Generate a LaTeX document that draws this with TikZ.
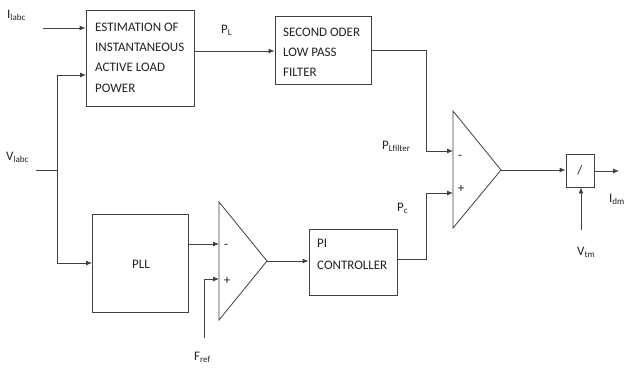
\documentclass[tikz,border=0pt]{standalone}
\usepackage{fontspec}
\setmainfont{Carlito}
\usetikzlibrary{arrows.meta}
\definecolor{linec}{HTML}{404040}
\definecolor{txtc}{HTML}{222222}
\newcommand{\mysub}[1]{\raisebox{-2.2pt}{\fontsize{9}{10}\selectfont #1}}
\begin{document}
\begin{tikzpicture}[x=1pt,y=-1pt,
  ln/.style={draw=linec, line width=0.8pt},
  arr/.style={ln, -{Latex[length=6pt,width=5pt]}},
  blk/.style={draw=linec, line width=0.8pt, rectangle, inner sep=0pt},
  lbl/.style={font=\fontsize{13}{15}\selectfont, text=txtc, inner sep=0pt, anchor=west}]
\useasboundingbox[fill=white] (0,0) rectangle (626,367);
% blocks
\node[blk, minimum width=108pt, minimum height=96pt] (est) at (140,58) {};
\node[blk, minimum width=96pt, minimum height=68pt] (lpf) at (323,50) {};
\node[blk, minimum width=96pt, minimum height=98pt] (pll) at (140,263) {};
\node[blk, minimum width=88pt, minimum height=66pt] (pi) at (353,262) {};
\node[blk, minimum width=28pt, minimum height=33pt] (dv) at (580,170.5) {};
% block texts
\node[lbl] (t1) at (95,27) {ESTIMATION OF};
\node[lbl] (t2) at (95,47) {INSTANTANEOUS};
\node[lbl] (t3) at (95,67) {ACTIVE LOAD};
\node[lbl] (t4) at (95,88) {POWER};
\node[lbl] (f1) at (283,32) {SECOND ODER};
\node[lbl] (f2) at (283,52) {LOW PASS};
\node[lbl] (f3) at (283,72) {FILTER};
\node[lbl, anchor=center] (tp) at (141,264) {PLL};
\node[lbl] (p1) at (317,243) {PI};
\node[lbl] (p2) at (317,265) {CONTROLLER};
\node[lbl, anchor=center] (ts) at (580,170) {/};
% comparators
\coordinate (a1) at (219,202); \coordinate (b1) at (219,320); \coordinate (c1) at (267,261);
\draw[ln] (a1) -- (b1) -- (c1) -- cycle;
\coordinate (a2) at (453,111); \coordinate (b2) at (453,228); \coordinate (c2) at (501,170);
\draw[ln] (a2) -- (b2) -- (c2) -- cycle;
\node[lbl, anchor=center] (m1) at (226,246) {-};
\node[lbl, anchor=center] (s1) at (227,281) {+};
\node[lbl, anchor=center] (m2) at (460,157) {-};
\node[lbl, anchor=center] (s2) at (461,189) {+};
% signal labels
\node[lbl] (li) at (7,15) {I\mysub{labc}};
\node[lbl] (lv) at (6,157) {V\mysub{labc}};
\node[lbl] (lpl) at (221,30) {P\mysub{L}};
\node[lbl] (lplf) at (382,146) {P\mysub{Lfilter}};
\node[lbl] (lpc) at (397,208) {P\mysub{c}};
\node[lbl] (lf) at (194,357) {F\mysub{ref}};
\node[lbl] (lvt) at (577,252) {V\mysub{tm}};
\node[lbl] (lid) at (609,199) {I\mysub{dm}};
% connectors
\coordinate (ia) at (43,28);
\draw[arr] (ia) -- (ia -| est.west);
\coordinate (vin) at (36,170); \coordinate (vj) at (57,170);
\coordinate (estin) at (86,75); \coordinate (pllin) at (92,263);
\draw[ln] (vin) -- (vj);
\draw[arr] (vj) -- (vj |- estin) -- (estin);
\draw[arr] (vj) -- (vj |- pllin) -- (pllin);
\coordinate (plo) at (194,51);
\draw[arr] (plo) -- (plo -| lpf.west);
\coordinate (lpfo) at (371,50); \coordinate (k1) at (426,151); \coordinate (in2a) at (453,151);
\draw[arr] (lpfo) -| (k1) -- (in2a);
\coordinate (pllo) at (188,244); \coordinate (in1a) at (219,244);
\draw[arr] (pllo) -- (in1a);
\coordinate (fr) at (204,338); \coordinate (in1b) at (219,279);
\draw[arr] (fr) |- (in1b);
\draw[arr] (c1) -- (c1 -| pi.west);
\coordinate (pio) at (397,259); \coordinate (k2) at (426,193); \coordinate (in2b) at (453,193);
\draw[arr] (pio) -| (k2) -- (in2b);
\draw[arr] (c2) -- (c2 -| dv.west);
\coordinate (dvo) at (594,171); \coordinate (idm) at (619,171);
\draw[arr] (dvo) -- (idm);
\coordinate (vt) at (581,230);
\draw[arr] (vt) -- (vt |- dv.south);
\end{tikzpicture}
\end{document}
